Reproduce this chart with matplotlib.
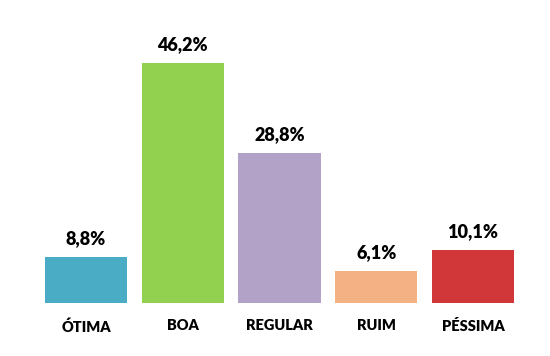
import matplotlib
matplotlib.use('Agg')
import matplotlib.pyplot as plt

categories = ['ÓTIMA', 'BOA', 'REGULAR', 'RUIM', 'PÉSSIMA']
values = [8.8, 46.2, 28.8, 6.1, 10.1]
labels = ['8,8%', '46,2%', '28,8%', '6,1%', '10,1%']
colors = ['#4BACC6', '#92D050', '#B3A2C7', '#F4B183', '#D13639']

fig = plt.figure(figsize=(5.5, 3.56), dpi=100)
ax = fig.add_axes([0.0684, 0.1497, 0.8796, 0.7295])

x = range(len(categories))
bars = ax.bar(x, values, width=0.85, color=colors)

for bar, lab in zip(bars, labels):
    ax.annotate(lab, (bar.get_x() + bar.get_width() / 2, bar.get_height()),
                xytext=(0, 7), textcoords='offset points', ha='center', va='bottom',
                fontsize=13, fontweight='heavy', family='Lato')

ax.set_xlim(-0.5, 4.5)
ax.set_ylim(0, 50)
ax.set_xticks(list(x))
ax.set_xticklabels(categories, fontsize=10.5, fontweight='heavy', family='Lato')
ax.tick_params(axis='x', length=0, pad=12)
ax.set_yticks([])
for s in ax.spines.values():
    s.set_visible(False)

fig.savefig('out.png', dpi=100)
